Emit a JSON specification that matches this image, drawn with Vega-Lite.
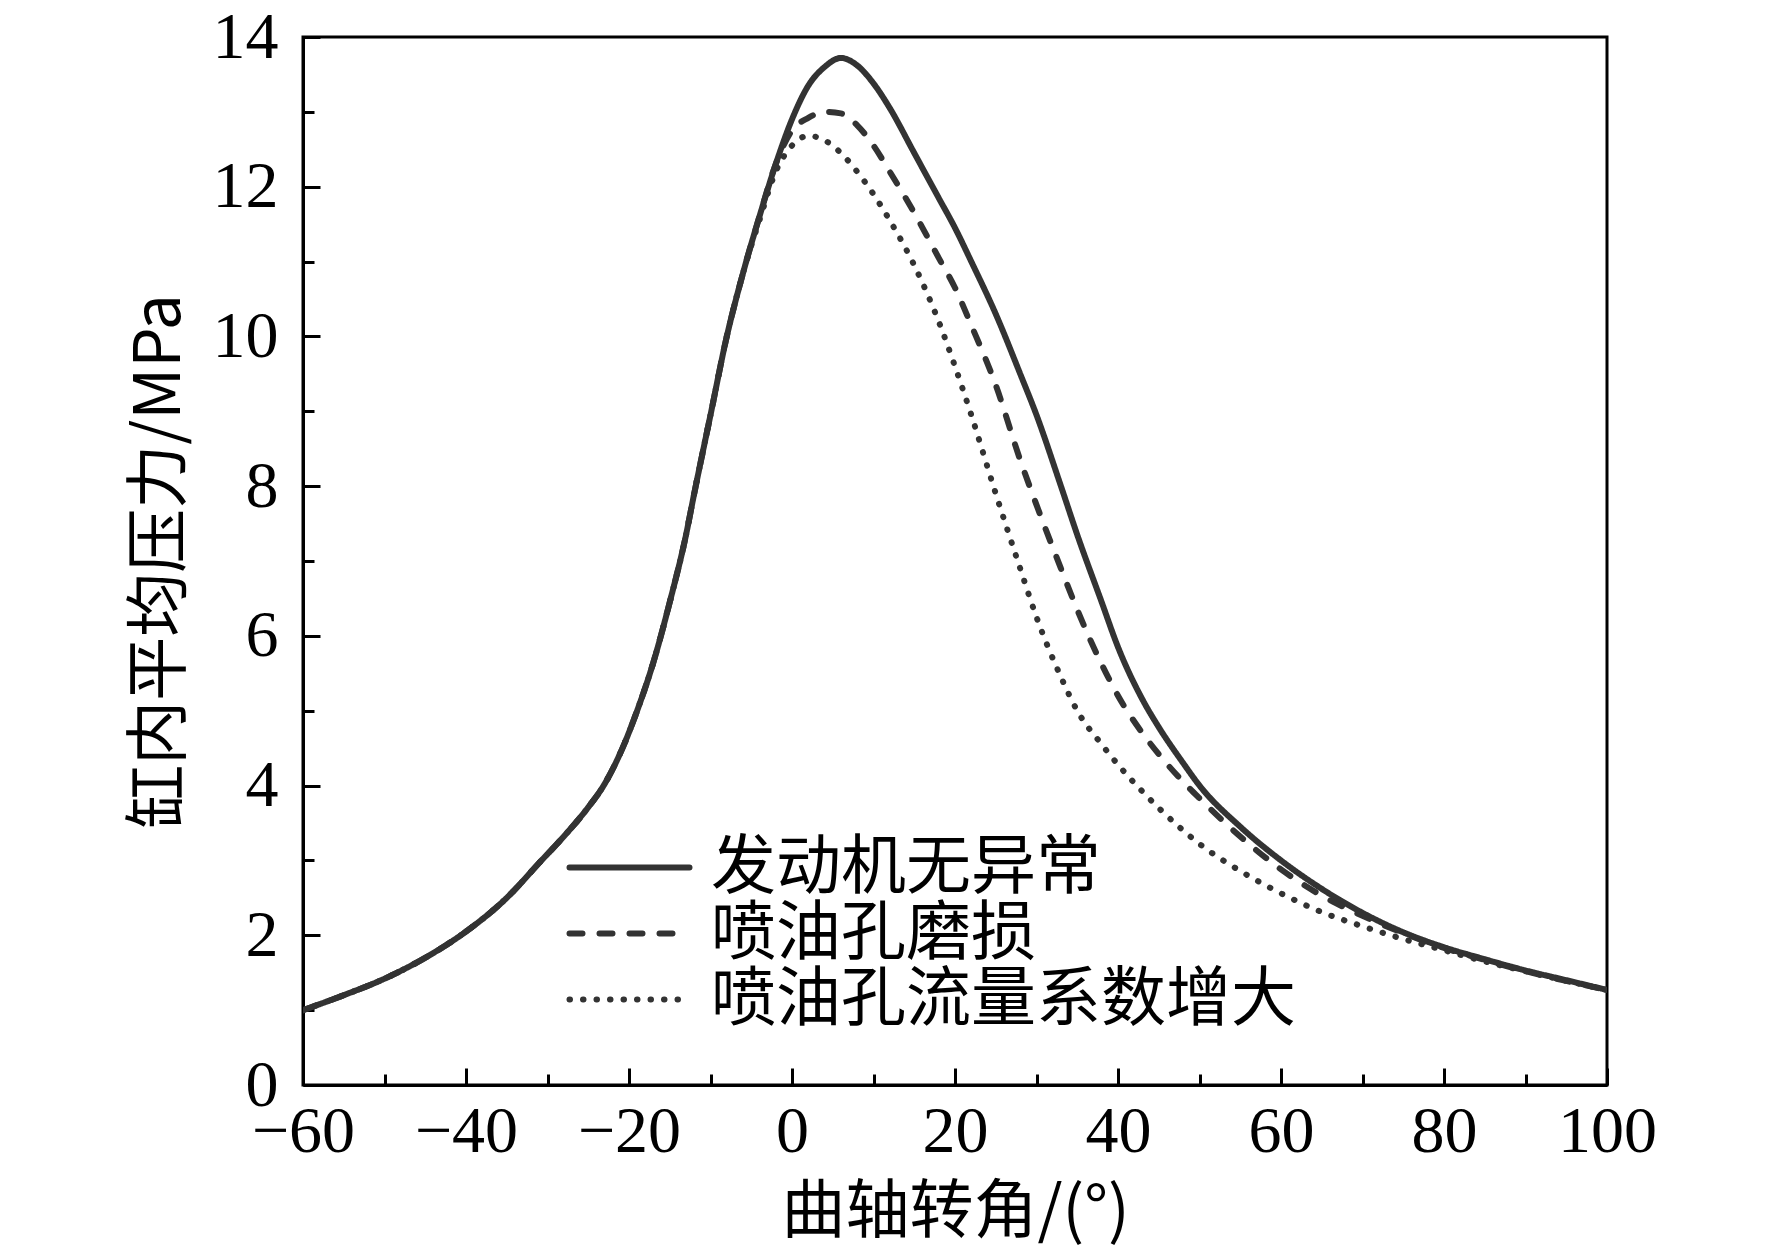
{
  "$schema": "https://vega.github.io/schema/vega-lite/v6.json",
  "width": 1304,
  "height": 1048,
  "autosize": {"type": "none"},
  "padding": {"left": 303, "top": 37, "right": 165, "bottom": 164},
  "background": "white",
  "config": {
    "view": {"stroke": "black", "strokeWidth": 3},
    "axis": {
      "grid": false,
      "domainColor": "black",
      "domainWidth": 3,
      "tickColor": "black",
      "tickWidth": 3,
      "labelFlush": false,
      "labelFont": "Liberation Serif",
      "labelFontSize": 66,
      "labelColor": "black",
      "titleFont": "Noto Sans CJK SC",
      "titleFontSize": 64,
      "titleFontWeight": "normal",
      "titleColor": "black"
    }
  },
  "data": {
    "values": [
      {"a": -60, "p": 1.0, "s": "发动机无异常"},
      {"a": -55, "p": 1.2, "s": "发动机无异常"},
      {"a": -50, "p": 1.42, "s": "发动机无异常"},
      {"a": -45, "p": 1.7, "s": "发动机无异常"},
      {"a": -40, "p": 2.05, "s": "发动机无异常"},
      {"a": -35, "p": 2.5, "s": "发动机无异常"},
      {"a": -31, "p": 2.97, "s": "发动机无异常"},
      {"a": -28, "p": 3.32, "s": "发动机无异常"},
      {"a": -25, "p": 3.71, "s": "发动机无异常"},
      {"a": -23, "p": 4.02, "s": "发动机无异常"},
      {"a": -21, "p": 4.45, "s": "发动机无异常"},
      {"a": -19, "p": 5.0, "s": "发动机无异常"},
      {"a": -17, "p": 5.65, "s": "发动机无异常"},
      {"a": -15, "p": 6.45, "s": "发动机无异常"},
      {"a": -13, "p": 7.35, "s": "发动机无异常"},
      {"a": -12, "p": 7.9, "s": "发动机无异常"},
      {"a": -10, "p": 8.95, "s": "发动机无异常"},
      {"a": -8, "p": 10.0, "s": "发动机无异常"},
      {"a": -6, "p": 10.85, "s": "发动机无异常"},
      {"a": -4, "p": 11.6, "s": "发动机无异常"},
      {"a": -2, "p": 12.3, "s": "发动机无异常"},
      {"a": 0, "p": 12.9, "s": "发动机无异常"},
      {"a": 2, "p": 13.35, "s": "发动机无异常"},
      {"a": 4, "p": 13.6, "s": "发动机无异常"},
      {"a": 6, "p": 13.72, "s": "发动机无异常"},
      {"a": 8, "p": 13.62, "s": "发动机无异常"},
      {"a": 10, "p": 13.38, "s": "发动机无异常"},
      {"a": 12, "p": 13.05, "s": "发动机无异常"},
      {"a": 15, "p": 12.45, "s": "发动机无异常"},
      {"a": 18, "p": 11.85, "s": "发动机无异常"},
      {"a": 20, "p": 11.45, "s": "发动机无异常"},
      {"a": 22, "p": 11.0, "s": "发动机无异常"},
      {"a": 25, "p": 10.3, "s": "发动机无异常"},
      {"a": 28, "p": 9.5, "s": "发动机无异常"},
      {"a": 30, "p": 8.95, "s": "发动机无异常"},
      {"a": 33, "p": 8.0, "s": "发动机无异常"},
      {"a": 35, "p": 7.35, "s": "发动机无异常"},
      {"a": 38, "p": 6.45, "s": "发动机无异常"},
      {"a": 40, "p": 5.85, "s": "发动机无异常"},
      {"a": 43, "p": 5.15, "s": "发动机无异常"},
      {"a": 45, "p": 4.78, "s": "发动机无异常"},
      {"a": 48, "p": 4.3, "s": "发动机无异常"},
      {"a": 50, "p": 4.0, "s": "发动机无异常"},
      {"a": 55, "p": 3.45, "s": "发动机无异常"},
      {"a": 60, "p": 3.0, "s": "发动机无异常"},
      {"a": 65, "p": 2.62, "s": "发动机无异常"},
      {"a": 70, "p": 2.3, "s": "发动机无异常"},
      {"a": 75, "p": 2.04, "s": "发动机无异常"},
      {"a": 80, "p": 1.84, "s": "发动机无异常"},
      {"a": 85, "p": 1.68, "s": "发动机无异常"},
      {"a": 90, "p": 1.53, "s": "发动机无异常"},
      {"a": 95, "p": 1.4, "s": "发动机无异常"},
      {"a": 100, "p": 1.27, "s": "发动机无异常"},

      {"a": -60, "p": 1.0, "s": "喷油孔磨损"},
      {"a": -55, "p": 1.2, "s": "喷油孔磨损"},
      {"a": -50, "p": 1.42, "s": "喷油孔磨损"},
      {"a": -45, "p": 1.7, "s": "喷油孔磨损"},
      {"a": -40, "p": 2.05, "s": "喷油孔磨损"},
      {"a": -35, "p": 2.5, "s": "喷油孔磨损"},
      {"a": -31, "p": 2.97, "s": "喷油孔磨损"},
      {"a": -28, "p": 3.32, "s": "喷油孔磨损"},
      {"a": -25, "p": 3.71, "s": "喷油孔磨损"},
      {"a": -23, "p": 4.02, "s": "喷油孔磨损"},
      {"a": -21, "p": 4.45, "s": "喷油孔磨损"},
      {"a": -19, "p": 5.0, "s": "喷油孔磨损"},
      {"a": -17, "p": 5.65, "s": "喷油孔磨损"},
      {"a": -15, "p": 6.45, "s": "喷油孔磨损"},
      {"a": -13, "p": 7.35, "s": "喷油孔磨损"},
      {"a": -12, "p": 7.9, "s": "喷油孔磨损"},
      {"a": -10, "p": 8.95, "s": "喷油孔磨损"},
      {"a": -8, "p": 10.0, "s": "喷油孔磨损"},
      {"a": -6, "p": 10.85, "s": "喷油孔磨损"},
      {"a": -4, "p": 11.6, "s": "喷油孔磨损"},
      {"a": -2, "p": 12.3, "s": "喷油孔磨损"},
      {"a": 0, "p": 12.75, "s": "喷油孔磨损"},
      {"a": 2, "p": 12.92, "s": "喷油孔磨损"},
      {"a": 4, "p": 13.0, "s": "喷油孔磨损"},
      {"a": 6, "p": 12.98, "s": "喷油孔磨损"},
      {"a": 8, "p": 12.82, "s": "喷油孔磨损"},
      {"a": 10, "p": 12.55, "s": "喷油孔磨损"},
      {"a": 12, "p": 12.2, "s": "喷油孔磨损"},
      {"a": 15, "p": 11.65, "s": "喷油孔磨损"},
      {"a": 18, "p": 11.05, "s": "喷油孔磨损"},
      {"a": 20, "p": 10.65, "s": "喷油孔磨损"},
      {"a": 22, "p": 10.15, "s": "喷油孔磨损"},
      {"a": 25, "p": 9.35, "s": "喷油孔磨损"},
      {"a": 28, "p": 8.35, "s": "喷油孔磨损"},
      {"a": 30, "p": 7.75, "s": "喷油孔磨损"},
      {"a": 33, "p": 6.9, "s": "喷油孔磨损"},
      {"a": 35, "p": 6.35, "s": "喷油孔磨损"},
      {"a": 38, "p": 5.62, "s": "喷油孔磨损"},
      {"a": 40, "p": 5.2, "s": "喷油孔磨损"},
      {"a": 43, "p": 4.7, "s": "喷油孔磨损"},
      {"a": 45, "p": 4.42, "s": "喷油孔磨损"},
      {"a": 48, "p": 4.05, "s": "喷油孔磨损"},
      {"a": 50, "p": 3.83, "s": "喷油孔磨损"},
      {"a": 55, "p": 3.32, "s": "喷油孔磨损"},
      {"a": 60, "p": 2.88, "s": "喷油孔磨损"},
      {"a": 65, "p": 2.53, "s": "喷油孔磨损"},
      {"a": 70, "p": 2.26, "s": "喷油孔磨损"},
      {"a": 75, "p": 2.03, "s": "喷油孔磨损"},
      {"a": 80, "p": 1.83, "s": "喷油孔磨损"},
      {"a": 85, "p": 1.67, "s": "喷油孔磨损"},
      {"a": 90, "p": 1.52, "s": "喷油孔磨损"},
      {"a": 95, "p": 1.39, "s": "喷油孔磨损"},
      {"a": 100, "p": 1.27, "s": "喷油孔磨损"},

      {"a": -60, "p": 1.0, "s": "喷油孔流量系数增大"},
      {"a": -55, "p": 1.2, "s": "喷油孔流量系数增大"},
      {"a": -50, "p": 1.42, "s": "喷油孔流量系数增大"},
      {"a": -45, "p": 1.7, "s": "喷油孔流量系数增大"},
      {"a": -40, "p": 2.05, "s": "喷油孔流量系数增大"},
      {"a": -35, "p": 2.5, "s": "喷油孔流量系数增大"},
      {"a": -31, "p": 2.97, "s": "喷油孔流量系数增大"},
      {"a": -28, "p": 3.32, "s": "喷油孔流量系数增大"},
      {"a": -25, "p": 3.71, "s": "喷油孔流量系数增大"},
      {"a": -23, "p": 4.02, "s": "喷油孔流量系数增大"},
      {"a": -21, "p": 4.45, "s": "喷油孔流量系数增大"},
      {"a": -19, "p": 5.0, "s": "喷油孔流量系数增大"},
      {"a": -17, "p": 5.65, "s": "喷油孔流量系数增大"},
      {"a": -15, "p": 6.45, "s": "喷油孔流量系数增大"},
      {"a": -13, "p": 7.35, "s": "喷油孔流量系数增大"},
      {"a": -12, "p": 7.9, "s": "喷油孔流量系数增大"},
      {"a": -10, "p": 8.95, "s": "喷油孔流量系数增大"},
      {"a": -8, "p": 10.0, "s": "喷油孔流量系数增大"},
      {"a": -6, "p": 10.85, "s": "喷油孔流量系数增大"},
      {"a": -4, "p": 11.55, "s": "喷油孔流量系数增大"},
      {"a": -2, "p": 12.2, "s": "喷油孔流量系数增大"},
      {"a": 0, "p": 12.55, "s": "喷油孔流量系数增大"},
      {"a": 2, "p": 12.68, "s": "喷油孔流量系数增大"},
      {"a": 4, "p": 12.62, "s": "喷油孔流量系数增大"},
      {"a": 6, "p": 12.45, "s": "喷油孔流量系数增大"},
      {"a": 8, "p": 12.2, "s": "喷油孔流量系数增大"},
      {"a": 10, "p": 11.9, "s": "喷油孔流量系数增大"},
      {"a": 12, "p": 11.55, "s": "喷油孔流量系数增大"},
      {"a": 15, "p": 10.95, "s": "喷油孔流量系数增大"},
      {"a": 18, "p": 10.2, "s": "喷油孔流量系数增大"},
      {"a": 20, "p": 9.6, "s": "喷油孔流量系数增大"},
      {"a": 22, "p": 8.95, "s": "喷油孔流量系数增大"},
      {"a": 25, "p": 7.9, "s": "喷油孔流量系数增大"},
      {"a": 28, "p": 6.9, "s": "喷油孔流量系数增大"},
      {"a": 30, "p": 6.25, "s": "喷油孔流量系数增大"},
      {"a": 33, "p": 5.45, "s": "喷油孔流量系数增大"},
      {"a": 35, "p": 5.0, "s": "喷油孔流量系数增大"},
      {"a": 38, "p": 4.55, "s": "喷油孔流量系数增大"},
      {"a": 40, "p": 4.28, "s": "喷油孔流量系数增大"},
      {"a": 43, "p": 3.92, "s": "喷油孔流量系数增大"},
      {"a": 45, "p": 3.7, "s": "喷油孔流量系数增大"},
      {"a": 48, "p": 3.4, "s": "喷油孔流量系数增大"},
      {"a": 50, "p": 3.22, "s": "喷油孔流量系数增大"},
      {"a": 55, "p": 2.86, "s": "喷油孔流量系数增大"},
      {"a": 60, "p": 2.56, "s": "喷油孔流量系数增大"},
      {"a": 65, "p": 2.31, "s": "喷油孔流量系数增大"},
      {"a": 70, "p": 2.12, "s": "喷油孔流量系数增大"},
      {"a": 75, "p": 1.95, "s": "喷油孔流量系数增大"},
      {"a": 80, "p": 1.8, "s": "喷油孔流量系数增大"},
      {"a": 85, "p": 1.65, "s": "喷油孔流量系数增大"},
      {"a": 90, "p": 1.52, "s": "喷油孔流量系数增大"},
      {"a": 95, "p": 1.39, "s": "喷油孔流量系数增大"},
      {"a": 100, "p": 1.27, "s": "喷油孔流量系数增大"}
    ]
  },
  "layer": [
    {
      "mark": {"type": "line", "strokeWidth": 6, "color": "#333333", "strokeCap": "round", "interpolate": "monotone", "clip": true},
      "encoding": {
        "x": {
          "field": "a",
          "type": "quantitative",
          "scale": {"domain": [-60, 100], "nice": false},
          "axis": {
            "values": [-60, -40, -20, 0, 20, 40, 60, 80, 100],
            "tickSize": -17,
            "labelPadding": 31,
            "title": "曲轴转角/(°)",
            "titlePadding": 16
          }
        },
        "y": {
          "field": "p",
          "type": "quantitative",
          "scale": {"domain": [0, 14], "nice": false},
          "axis": {
            "values": [0, 2, 4, 6, 8, 10, 12, 14],
            "tickSize": -17,
            "labelPadding": 42,
            "title": "缸内平均压力/MPa",
            "titlePadding": 20
          }
        },
        "strokeDash": {
          "field": "s",
          "type": "nominal",
          "scale": {
            "domain": ["发动机无异常", "喷油孔磨损", "喷油孔流量系数增大"],
            "range": [[1, 0], [13, 17], [0.5, 13]]
          },
          "legend": {
            "orient": "none",
            "legendX": 294,
            "legendY": 798,
            "title": null,
            "symbolType": "M-3,0H3",
            "symbolSize": 1600,
            "symbolStrokeWidth": 6,
            "symbolStrokeColor": "#333333",
            "labelFont": "Noto Sans CJK SC",
            "labelFontSize": 65,
            "labelColor": "black",
            "labelOffset": 49,
            "labelLimit": 0,
            "rowPadding": -4,
            "encoding": {"symbols": {"strokeCap": {"value": "round"}}}
          }
        }
      }
    },
    {
      "mark": {"type": "point", "opacity": 0},
      "encoding": {
        "x": {
          "field": "a",
          "type": "quantitative",
          "axis": {
            "orient": "bottom",
            "values": [-50, -30, -10, 10, 30, 50, 70, 90],
            "tickSize": -11,
            "labels": false,
            "domain": false,
            "title": null
          }
        },
        "y": {
          "field": "p",
          "type": "quantitative",
          "axis": {
            "orient": "left",
            "values": [1, 3, 5, 7, 9, 11, 13],
            "tickSize": -11,
            "labels": false,
            "domain": false,
            "title": null
          }
        }
      }
    }
  ],
  "resolve": {"axis": {"x": "independent", "y": "independent"}}
}
